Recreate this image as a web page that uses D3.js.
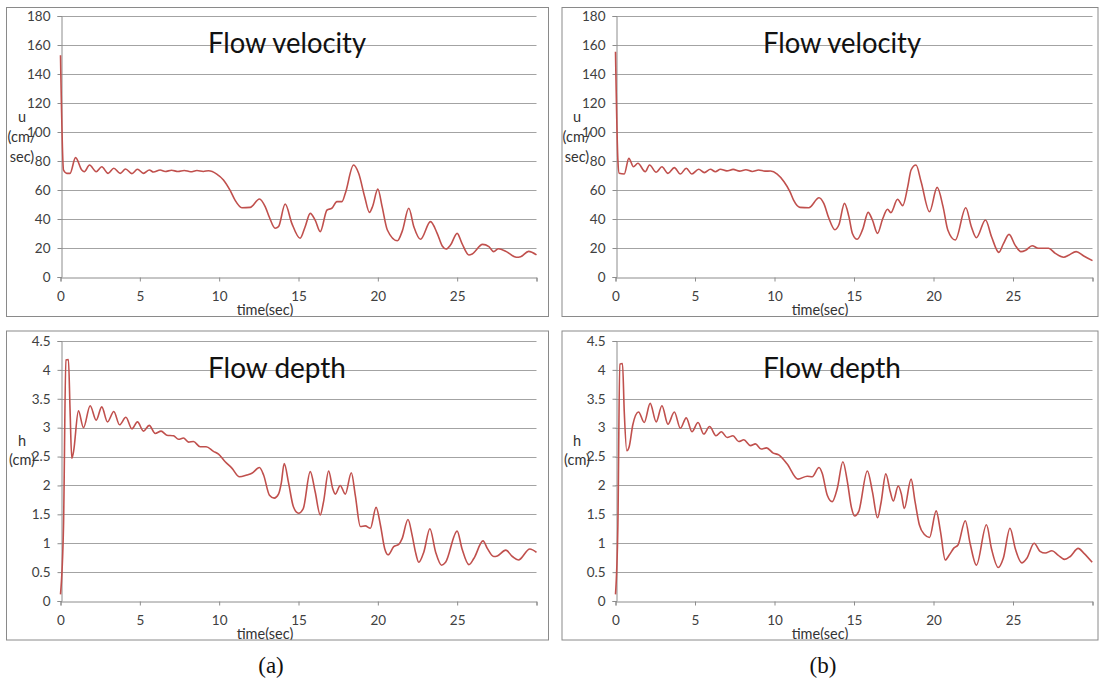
<!DOCTYPE html>
<html>
<head>
<meta charset="utf-8">
<script src="https://cdn.jsdelivr.net/npm/d3@7/dist/d3.min.js"></script>
<style>
html,body{margin:0;padding:0;background:#fff;}
svg{display:block;}
</style>
</head>
<body>
<svg id="chart" width="1102" height="682"></svg>
<script>
// ---------- data ----------
const timeTicks = [0, 5, 10, 15, 20, 25, 30];
const timeTickLabels = ["0", "5", "10", "15", "20", "25", ""];
const velocityTicks = [0, 20, 40, 60, 80, 100, 120, 140, 160, 180];
const depthTicks = [0, 0.5, 1, 1.5, 2, 2.5, 3, 3.5, 4, 4.5];

const timeVelA = [0,0.19,0.4,0.6,0.95,1.34,1.5,1.83,2.25,2.6,3.0,3.36,3.76,4.1,4.5,4.85,5.23,5.6,5.86,6.28,6.6,7.0,7.4,7.8,8.2,8.6,9.0,9.33,9.85,10.27,10.7,11.0,11.43,11.95,12.54,12.9,13.17,13.53,13.74,14.16,14.58,15.1,15.42,15.74,16.05,16.37,16.8,17.1,17.42,17.74,17.95,18.47,18.79,19.17,19.47,19.68,20.0,20.27,20.6,21.23,21.55,21.95,22.27,22.69,23.32,23.74,24.06,24.3,24.58,25.0,25.3,25.74,25.95,26.6,27.0,27.3,27.6,28.1,28.73,29.0,29.5,30];
const velA = [153,73.8,71.5,71.5,82.3,73.8,72.6,77.2,72.6,76,71.5,75,71.5,74.5,71.3,74.3,71.5,73.8,72.4,73.8,72.8,73.6,72.8,73.5,72.6,73.4,72.8,73.3,71,66.9,59.5,53,47.8,48,53.8,48.5,41,33.6,34.7,50.3,37,26.7,34.7,43.9,39.3,31.3,46.2,47.4,52,52,57.7,77.2,71.5,55.4,44.6,49,60.7,48.5,32.4,25,32,47.4,34.7,26,38.2,30.1,21.4,19.3,22,30.1,23.2,15.2,15.9,22.5,21,17.5,19.5,17.5,13.6,14,17.7,15.2];

const timeDepA = [0,0.19,0.34,0.5,0.6,0.71,0.82,1.13,1.45,1.87,2.25,2.6,2.96,3.36,3.72,4.12,4.5,4.85,5.23,5.59,5.97,6.34,6.7,7.12,7.44,7.75,8.07,8.38,8.8,9.18,9.64,9.96,10.38,10.8,11.28,11.74,12.06,12.54,12.8,13.17,13.47,13.74,13.92,14.1,14.37,14.68,15.0,15.3,15.74,16.05,16.37,16.58,16.9,17.15,17.32,17.63,17.95,18.33,18.58,18.9,19.21,19.53,19.89,20.16,20.43,20.65,21.0,21.32,21.53,21.9,22.16,22.37,22.58,22.9,23.28,23.64,24.02,24.27,25.0,25.3,25.74,26.06,26.63,26.9,27.3,27.53,28.06,28.48,28.86,29.58,30];
const depA = [0.115,1.3,4.17,4.18,3.33,2.47,2.58,3.29,3.0,3.38,3.13,3.36,3.1,3.28,3.05,3.18,2.98,3.1,2.94,3.04,2.9,2.94,2.87,2.86,2.8,2.82,2.75,2.76,2.67,2.67,2.59,2.54,2.41,2.3,2.15,2.18,2.21,2.31,2.18,1.83,1.78,1.85,2.05,2.38,2.05,1.63,1.52,1.6,2.24,1.89,1.49,1.72,2.25,1.95,1.85,2.0,1.85,2.22,1.83,1.29,1.3,1.26,1.62,1.32,0.91,0.8,0.94,0.98,1.08,1.41,1.14,0.85,0.67,0.85,1.25,0.85,0.62,0.67,1.21,0.91,0.63,0.74,1.04,0.91,0.77,0.78,0.88,0.77,0.71,0.9,0.84];

const timeVelB = [0,0.15,0.23,0.55,0.84,1.13,1.41,1.87,2.14,2.56,2.92,3.3,3.7,4.08,4.45,4.8,5.23,5.59,5.97,6.28,6.6,7.0,7.4,7.8,8.2,8.6,9.0,9.4,9.75,10.17,10.6,10.97,11.2,11.6,12.16,12.8,13.1,13.42,13.8,14.05,14.4,14.68,14.9,15.2,15.55,15.89,16.16,16.48,16.8,17.11,17.32,17.74,18.06,18.38,18.59,18.9,19.22,19.75,20.23,20.6,20.9,21.37,22.03,22.38,22.7,23.27,23.65,24.11,24.4,24.75,25.13,25.5,25.8,26.2,26.6,27.24,27.66,28.19,28.5,28.97,29.45,30];
const velB = [155.4,80.7,71.5,71,81.8,76,78.4,72.6,77.2,72.2,76,71.5,75.4,71,75,71,74.3,72,74.3,72.6,74.3,73.2,74.2,73,74,72.8,73.8,73,73.1,71,65.7,58.9,53,48,47.8,54.7,50.8,40.5,32.6,36,50.8,41.6,30,26,33,44.6,39.3,30.1,40,46.7,44.4,53.6,49.2,62.3,73.8,77.2,65.7,45,61.8,48.5,32.4,25.5,47.8,34.7,27.1,39.3,27.8,17,23,29.4,22,17.5,18.5,21.6,19.8,19.8,16.3,13.6,15,17.5,14.5,11.3];

const timeDepB = [0,0.15,0.27,0.44,0.55,0.71,0.86,1.09,1.45,1.81,2.18,2.56,2.92,3.3,3.7,4.08,4.45,4.81,5.19,5.55,5.92,6.32,6.66,7.02,7.39,7.75,8.07,8.49,8.8,9.16,9.5,9.92,10.27,10.8,11.47,12.06,12.37,12.8,13.0,13.32,13.63,13.95,14.3,14.58,14.83,15.04,15.3,15.84,16.16,16.48,16.7,17.0,17.28,17.47,17.78,17.98,18.16,18.59,18.84,19.11,19.43,19.75,20.17,20.44,20.74,21.0,21.29,21.54,22.0,22.3,22.7,23.33,23.65,24.07,24.39,24.81,25.15,25.55,25.87,26.33,26.7,27.03,27.45,27.85,28.25,28.6,29.1,29.45,29.98];
const depB = [0.115,1.32,4.1,4.11,3.28,2.6,2.67,3.05,3.27,3.09,3.42,3.1,3.38,3.06,3.27,2.99,3.17,2.93,3.09,2.89,3.02,2.86,2.93,2.83,2.86,2.76,2.79,2.69,2.72,2.63,2.65,2.56,2.53,2.37,2.11,2.16,2.15,2.31,2.21,1.83,1.72,1.95,2.41,2.07,1.63,1.47,1.55,2.25,1.89,1.44,1.7,2.2,1.89,1.73,1.99,1.85,1.6,2.11,1.72,1.32,1.15,1.1,1.56,1.2,0.71,0.8,0.92,0.97,1.39,1.0,0.62,1.32,0.9,0.58,0.74,1.26,0.9,0.66,0.74,1.0,0.86,0.83,0.87,0.79,0.72,0.77,0.91,0.83,0.67];

const titles = ["Flow velocity", "Flow depth"];
const xAxisTitle = "time(sec)";
const velLabelLines = ["u", "(cm/", "sec)"];
const depLabelLines = ["h", "(cm)"];
const captions = ["(a)", "(b)"];

// ---------- drawing ----------
const svg = d3.select("#chart");
svg.append("rect").attr("width", 1102).attr("height", 682).attr("fill", "#fff");

const LINE = "#c0504d";
const GRID = "#a3a3a3";
const AXIS = "#8c8c8c";
const FONT = "Lato, 'Open Sans', sans-serif";

const panels = [
  {box:[6.5, 7.5, 542, 309], plot:[60.5, 536.5, 16, 277], t:timeVelA, v:velA, ticks:velocityTicks, max:180, title:titles[0], tlen:158, lab:velLabelLines},
  {box:[562, 7.5, 536, 309], plot:[615.5, 1092.5, 16, 277], t:timeVelB, v:velB, ticks:velocityTicks, max:180, title:titles[0], tlen:158, lab:velLabelLines},
  {box:[6.5, 331, 542, 309], plot:[60.5, 536.5, 341, 601], t:timeDepA, v:depA, ticks:depthTicks, max:4.5, title:titles[1], tlen:138, lab:depLabelLines},
  {box:[562, 331, 536, 309], plot:[615.5, 1092.5, 341, 601], t:timeDepB, v:depB, ticks:depthTicks, max:4.5, title:titles[1], tlen:138, lab:depLabelLines}
];

panels.forEach((p, i) => {
  const [bx, by, bw, bh] = p.box;
  const [pl, pr, pt, pb] = p.plot;
  const clipId = "clip" + i;
  svg.append("clipPath").attr("id", clipId)
    .append("rect").attr("x", bx).attr("y", by).attr("width", bw).attr("height", bh);
  const g = svg.append("g").attr("clip-path", `url(#${clipId})`);

  const x = d3.scaleLinear().domain([0, 30]).range([pl, pr]);
  const y = d3.scaleLinear().domain([0, p.max]).range([pb, pt]);

  // gridlines
  g.append("g").selectAll("line").data(p.ticks.filter(d => d > 0)).join("line")
    .attr("x1", pl).attr("x2", pr)
    .attr("y1", d => Math.round(y(d)) + 0.5).attr("y2", d => Math.round(y(d)) + 0.5)
    .attr("stroke", GRID).attr("stroke-width", 1);

  // y axis
  const yAxis = d3.axisLeft(y).tickValues(p.ticks).tickSize(4).tickPadding(7)
    .tickFormat(d => String(d));
  const ya = g.append("g").attr("transform", `translate(${Math.round(pl) + 0.5},0)`).call(yAxis);
  ya.select(".domain").attr("stroke", AXIS);
  ya.selectAll(".tick line").attr("stroke", AXIS);
  ya.selectAll(".tick text").attr("font-family", FONT).attr("font-size", 13.5).attr("fill", "#404040");

  // x axis
  const xAxis = d3.axisBottom(x).tickValues(timeTicks).tickSize(4).tickPadding(10)
    .tickFormat((d, k) => timeTickLabels[k]);
  const xa = g.append("g").attr("transform", `translate(0,${Math.round(pb) + 0.5})`).call(xAxis);
  xa.select(".domain").attr("stroke", AXIS);
  xa.selectAll(".tick line").attr("stroke", AXIS);
  xa.selectAll(".tick text").attr("font-family", FONT).attr("font-size", 13.5).attr("fill", "#404040");

  // data line
  const data = p.t.map((t, k) => [t, p.v[k]]);
  const line = d3.line().x(d => x(d[0])).y(d => y(d[1])).curve(d3.curveMonotoneX);
  g.append("path").datum(data).attr("d", line)
    .attr("fill", "none").attr("stroke", LINE).attr("stroke-width", 1.6)
    .attr("stroke-linejoin", "round");

  // title
  g.append("text").attr("x", pl + 147.5).attr("y", pt + 37)
    .attr("font-family", FONT).attr("font-size", 28).attr("fill", "#111")
    .attr("textLength", p.tlen).attr("lengthAdjust", "spacingAndGlyphs")
    .text(p.title);

  // x axis title
  g.append("text").attr("x", pl + 204.5).attr("y", by + bh - 1.5)
    .attr("text-anchor", "middle").attr("font-family", FONT).attr("font-size", 14.5)
    .attr("fill", "#333").text(xAxisTitle);

  // y axis title
  const labX = pl - 38.5;
  const labBase = p.lab.length === 3 ? [pt + 106, pt + 126, pt + 146] : [pt + 105, pt + 124];
  p.lab.forEach((s, k) => {
    g.append("text").attr("x", labX).attr("y", labBase[k])
      .attr("text-anchor", "middle").attr("font-family", FONT).attr("font-size", 14.5)
      .attr("fill", "#333").text(s);
  });

  // panel border
  svg.append("rect").attr("x", bx).attr("y", by).attr("width", bw).attr("height", bh)
    .attr("fill", "none").attr("stroke", "#8a8a8a").attr("stroke-width", 1);
});

// captions
svg.append("text").attr("x", 271).attr("y", 673).attr("text-anchor", "middle")
  .attr("font-family", "'Liberation Serif', 'Times New Roman', serif").attr("font-size", 23)
  .attr("fill", "#111").text(captions[0]);
svg.append("text").attr("x", 823).attr("y", 673).attr("text-anchor", "middle")
  .attr("font-family", "'Liberation Serif', 'Times New Roman', serif").attr("font-size", 23)
  .attr("fill", "#111").text(captions[1]);
</script>
</body>
</html>
